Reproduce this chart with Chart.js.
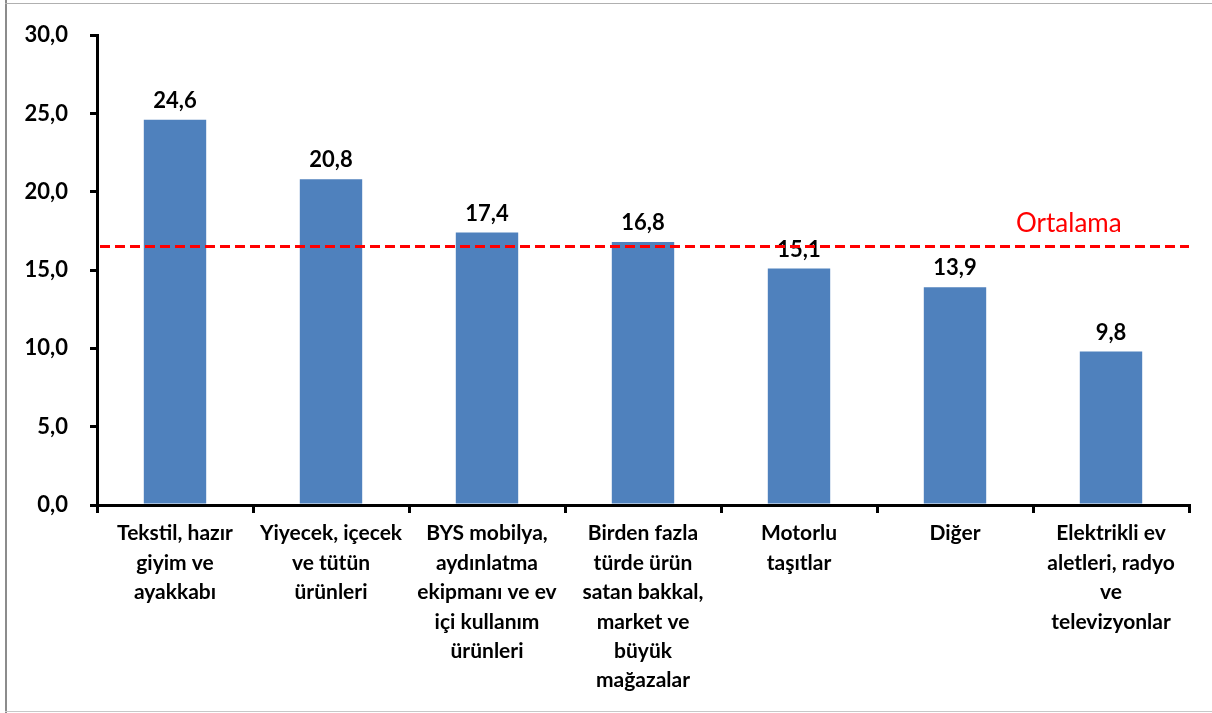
<!DOCTYPE html>
<html><head><meta charset="utf-8">
<script src="https://cdn.jsdelivr.net/npm/chart.js@4"></script>
<style>html,body{margin:0;padding:0;background:#fff;}#wrap{width:1212px;height:713px;position:relative;}</style>
</head><body><div id="wrap"><canvas id="c" width="1212" height="713"></canvas></div>
<script>
const categories = [
  ["Tekstil, hazır","giyim ve","ayakkabı"],
  ["Yiyecek, içecek","ve tütün","ürünleri"],
  ["BYS mobilya,","aydınlatma","ekipmanı ve ev","içi kullanım","ürünleri"],
  ["Birden fazla","türde ürün","satan bakkal,","market ve","büyük","mağazalar"],
  ["Motorlu","taşıtlar"],
  ["Diğer"],
  ["Elektrikli ev","aletleri, radyo","ve","televizyonlar"]
];
const values = [24.6, 20.8, 17.4, 16.8, 15.1, 13.9, 9.8];
const averageValue = 16.5;
const averageLabel = "Ortalama";
const yTicks = [0, 5, 10, 15, 20, 25, 30];

const FONT = "Lato, 'Open Sans', sans-serif";
const fmt = v => v.toFixed(1).replace('.', ',');

const extras = {
  id: 'extras',
  afterDatasetsDraw(chart) {
    const ctx = chart.ctx, ca = chart.chartArea, y = chart.scales.y;
    const meta = chart.getDatasetMeta(0);
    ctx.save();
    ctx.fillStyle = '#000';
    ctx.font = "bold 22px " + FONT;
    ctx.textAlign = 'center';
    ctx.textBaseline = 'alphabetic';
    meta.data.forEach((bar, i) => {
      ctx.fillText(fmt(values[i]), bar.x, bar.y - 12);
    });
    const ay = y.getPixelForValue(averageValue);
    ctx.strokeStyle = '#ff0000';
    ctx.lineWidth = 3;
    ctx.setLineDash([10, 5]);
    ctx.beginPath();
    ctx.moveTo(ca.left + 3, ay);
    ctx.lineTo(ca.right, ay);
    ctx.stroke();
    ctx.setLineDash([]);
    ctx.fillStyle = '#ff0000';
    ctx.font = "26px " + FONT;
    ctx.textAlign = 'left';
    ctx.fillText(averageLabel, 1016, ay - 15);
    ctx.fillStyle = '#8c8c8c';
    ctx.fillRect(5, 0, 2, 713);
    ctx.fillStyle = '#b0b0b0';
    ctx.fillRect(5, 3, 1207, 1);
    ctx.fillStyle = '#c8c8c8';
    ctx.fillRect(5, 711, 1207, 1);
    ctx.restore();
  }
};

new Chart(document.getElementById('c'), {
  type: 'bar',
  data: {
    labels: categories,
    datasets: [{
      data: values,
      backgroundColor: '#4f81bd',
      barPercentage: 0.4,
      categoryPercentage: 1.0
    }]
  },
  options: {
    responsive: false,
    animation: false,
    layout: { padding: { left: 0, right: 23, top: 33, bottom: 0 } },
    plugins: { legend: { display: false }, tooltip: { enabled: false } },
    scales: {
      x: {
        grid: { display: true, drawOnChartArea: false, offset: true, tickLength: 8, color: '#000', lineWidth: 3 },
        border: { display: true, color: '#000', width: 3 },
        ticks: {
          color: '#000', font: { family: FONT, size: 21, weight: 'bold', lineHeight: 1.4 },
          padding: 6, maxRotation: 0, autoSkip: false
        },
        afterFit(s) { s.height = 713 - 505; }
      },
      y: {
        min: 0, max: 30,
        afterBuildTicks(s) { s.ticks = yTicks.map(v => ({ value: v })); },
        grid: { display: true, drawOnChartArea: false, tickLength: 7, color: '#000', lineWidth: 3 },
        border: { display: true, color: '#000', width: 3 },
        ticks: {
          color: '#000', font: { family: FONT, size: 22, weight: 'bold' },
          padding: 22, callback: v => fmt(v)
        },
        afterFit(s) { s.width = 97; }
      }
    }
  },
  plugins: [extras]
});
</script></body></html>
